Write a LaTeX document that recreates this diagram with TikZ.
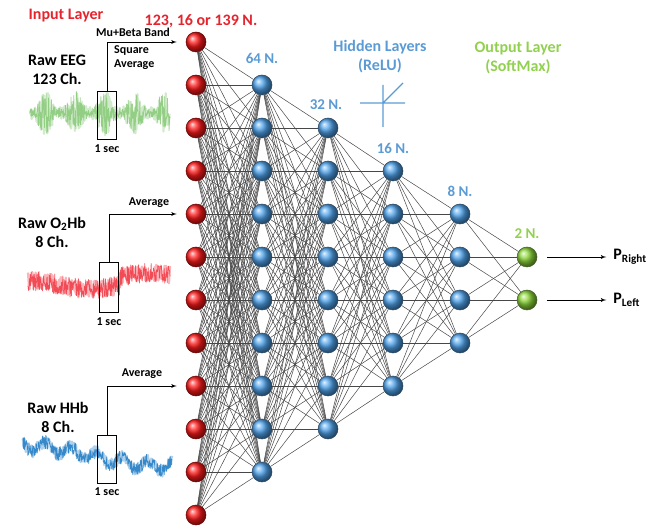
\documentclass[tikz,border=0pt]{standalone}
\usepackage{fontspec}
\setmainfont{Carlito}
\usetikzlibrary{arrows, arrows.meta, positioning, backgrounds}
\definecolor{inred}{HTML}{E5252E}
\definecolor{hidblue}{HTML}{5B9BD5}
\definecolor{ballblue}{HTML}{4FA3EC}
\definecolor{outgreen}{HTML}{92D050}
\definecolor{ballgreen}{HTML}{8ED83A}
\definecolor{eeggreen}{HTML}{7CC46A}
\definecolor{oxred}{HTML}{F0303C}
\definecolor{hhblue}{HTML}{1F7CC4}
\tikzset{x = 1pt, y = -1pt,
         neuron/.style = {circle, minimum size = 20pt, inner sep = 0pt},
         input neuron/.style = {neuron, ball color = red!90!white, draw = red!40!black, line width = 0.5pt},
         hidden neuron/.style = {neuron, ball color = ballblue, draw = hidblue!45!black, line width = 0.5pt},
         output neuron/.style = {neuron, ball color = ballgreen, draw = outgreen!45!black, line width = 0.5pt},
         synapse/.style = {line width = 0.5pt, black!72},
         bigtext/.style = {font = \bfseries\fontsize{16}{19}\selectfont, inner sep = 1pt, align = center},
         smalltext/.style = {font = \bfseries\fontsize{12}{14}\selectfont, inner sep = 1pt},
         nlbl/.style = {font = \bfseries\fontsize{15}{18}\selectfont, inner sep = 1pt},
         winbox/.style = {draw, line width = 1pt, minimum width = 19pt, minimum height = 48pt, inner sep = 0pt},
         feed/.style = {-latex', line width = 0.9pt, shorten >= 9pt},
         trace/.style = {line width = 0.7pt, line join = round}}

\begin{document}
\begin{tikzpicture}
        \useasboundingbox (0,0) rectangle (664,529);
        \pgfmathsetseed{7}

        % layers
        \foreach \i in {0,...,11}
            \node[input neuron]  (in\i) at (196, 42+43*\i) {};
        \foreach \i in {1,...,10}
            \node[hidden neuron] (ha\i) at (262, 42+43*\i) {};
        \foreach \i in {2,...,9}
            \node[hidden neuron] (hb\i) at (328, 42+43*\i) {};
        \foreach \i in {3,...,8}
            \node[hidden neuron] (hc\i) at (393, 42+43*\i) {};
        \foreach \i in {4,...,7}
            \node[hidden neuron] (hd\i) at (460, 42+43*\i) {};
        \foreach \i in {5,6}
            \node[output neuron] (out\i) at (527, 42+43*\i) {};

        \begin{scope}[on background layer]
            \foreach \i in {0,...,11}
                \foreach \j in {1,...,10}
                    \draw[synapse] (in\i) -- (ha\j);
            \foreach \i in {1,...,10}
                \foreach \j in {2,...,9}
                    \draw[synapse] (ha\i) -- (hb\j);
            \foreach \i in {2,...,9}
                \foreach \j in {3,...,8}
                    \draw[synapse] (hb\i) -- (hc\j);
            \foreach \i in {3,...,8}
                \foreach \j in {4,...,7}
                    \draw[synapse] (hc\i) -- (hd\j);
            \foreach \i in {4,...,7}
                \foreach \j in {5,6}
                    \draw[synapse] (hd\i) -- (out\j);
        \end{scope}

        % layer titles
        \node[bigtext, inred]    (inlbl)  at (66, 16)  {Input Layer};
        \node[bigtext, inred]    (insize) at (201, 21) {123, 16 or 139 N.};
        \node[bigtext, hidblue]  (hidlbl) at (380, 57) {Hidden Layers\\(ReLU)};
        \node[bigtext, outgreen] (outlbl) at (518, 58) {Output Layer\\(SoftMax)};

        \node[nlbl, hidblue,  above = 10pt of ha1]  {64 N.};
        \node[nlbl, hidblue,  above = 7pt of hb2, xshift = -2pt] {32 N.};
        \node[nlbl, hidblue,  above = 6pt of hc3]  {16 N.};
        \node[nlbl, hidblue,  above = 6pt of hd4]  {8 N.};
        \node[nlbl, outgreen, above = 7pt of out5] {2 N.};

        % relu
        \draw[hidblue, line width = 1.2pt] (360,103) -- (405,103)
                                           (383,85) -- (383,127)
                                           (383,103) -- (403,83);

        % outputs
        \node[bigtext, right = 75pt of out5] (pright) {P\textsubscript{Right}};
        \node[bigtext, right = 75pt of out6] (pleft)  {P\textsubscript{Left}};
        \draw[-latex', line width = 0.9pt, shorten <= 10pt, shorten >= 6pt] (out5) -- (pright);
        \draw[-latex', line width = 0.9pt, shorten <= 10pt, shorten >= 6pt] (out6) -- (pleft);

        % EEG
        \draw[trace, eeggreen, opacity = 0.35, line width = 2.2pt]
            plot[domain = 30:170, samples = 260] (\x, {113 + (6 + 16*abs(sin(6*\x))^3)*rand});
        \draw[trace, eeggreen, opacity = 0.75]
            plot[domain = 30:170, samples = 400] (\x, {113 + (5 + 18*abs(sin(6*\x))^3)*rand});
        \node[bigtext] (eeglbl) at (57, 70) {Raw EEG\\123 Ch.};
        \node[winbox]  (eegwin) at (107, 116) {};
        \node[smalltext, below = 3pt of eegwin] {1 sec};
        \draw[feed] (eegwin.north) |- (in0.west);
        \node[smalltext] (eegband) at (133, 32) {Mu+Beta Band};
        \node[smalltext, align = left, anchor = north west] (eegsq) at (113, 44) {Square\\Average};

        % O2Hb
        \draw[trace, oxred, opacity = 0.35, line width = 2.4pt]
            plot[domain = 28:170, samples = 260] (\x, {285 - 8*(\x > 120) - 4*sin(3*\x) + 9*rand});
        \draw[trace, oxred, opacity = 0.8]
            plot[domain = 28:170, samples = 400] (\x, {285 - 8*(\x > 120) - 4*sin(3*\x) + 10*rand});
        \node[bigtext] (oxlbl) at (52, 232) {Raw O\textsubscript{2}Hb\\8 Ch.};
        \node[winbox, minimum height = 50pt] (oxwin) at (109, 288) {};
        \node[smalltext, below = 3pt of oxwin] {1 sec};
        \draw[feed] (oxwin.north) |- (in4.west);
        \node[smalltext] (oxavg) at (149, 203) {Average};

        % HHb
        \draw[trace, hhblue, opacity = 0.35, line width = 2.6pt]
            plot[domain = 23:172, samples = 260] (\x, {456 - 10*cos(1.3*(\x-23)) + 5*sin(14*\x) + 6*rand});
        \draw[trace, hhblue, opacity = 0.85]
            plot[domain = 23:172, samples = 400] (\x, {456 - 10*cos(1.3*(\x-23)) + 5*sin(14*\x) + 7*rand});
        \node[bigtext] (hhlbl) at (58, 417) {Raw HHb\\8 Ch.};
        \node[winbox]  (hhwin) at (107, 459) {};
        \node[smalltext, below = 3pt of hhwin] {1 sec};
        \draw[feed] (hhwin.north) |- (in8.west);
        \node[smalltext] (hhavg) at (142, 374) {Average};
    \end{tikzpicture}
\end{document}
